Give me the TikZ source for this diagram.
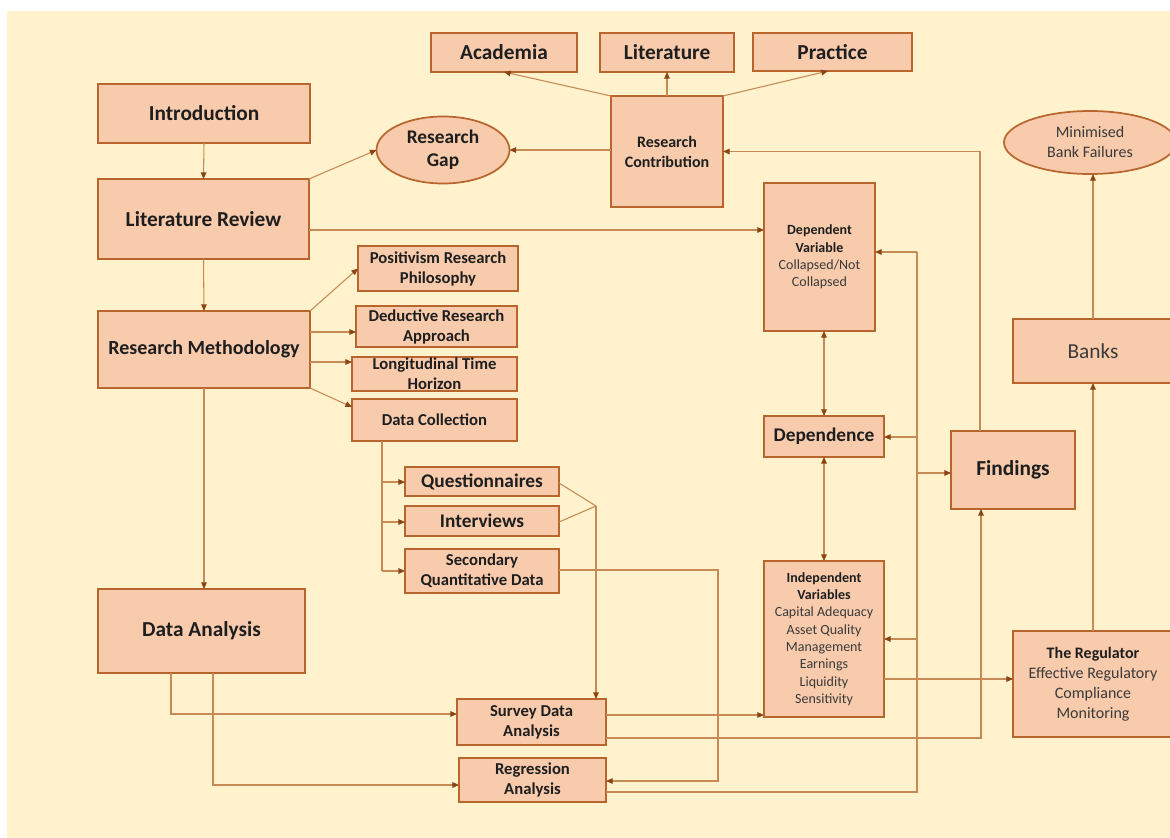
\documentclass[tikz,border=0pt]{standalone}
\usepackage{fontspec}
\setmainfont{Carlito}
\usetikzlibrary{arrows.meta,shapes.geometric,calc}
\definecolor{bgc}{HTML}{FFF2CC}
\definecolor{boxfill}{HTML}{F8CBAD}
\definecolor{boxline}{HTML}{B9652E}
\definecolor{wirec}{HTML}{C58A55}
\definecolor{tipc}{HTML}{8A4516}
\definecolor{ink}{HTML}{1E1E1E}
\definecolor{soft}{HTML}{3A3A3A}

\newcommand\fsz[2]{\fontsize{#1}{#2}\selectfont}
\newcommand\rg[1]{{\mdseries\color{soft}#1}}
\tikzset{
  box/.style={draw=boxline, fill=boxfill, line width=1.3pt, inner sep=0pt,
    outer sep=0pt, align=center, text=ink},
  oval/.style={box, ellipse},
  b16/.style={font=\bfseries\fsz{16}{19}},
  b15/.style={font=\bfseries\fsz{15}{18}},
  b145/.style={font=\bfseries\fsz{14.5}{17}},
  b125/.style={font=\bfseries\fsz{12.5}{15}},
  b12/.style={font=\bfseries\fsz{12}{15}},
  b105/.style={font=\bfseries\fsz{10.5}{13}},
  wire/.style={draw=wirec, line width=0.8pt},
  arr/.style={wire, -{Triangle[length=5pt,width=4.2pt,color=tipc]}},
  darr/.style={wire, {Triangle[length=5pt,width=4.2pt,color=tipc]}-{Triangle[length=5pt,width=4.2pt,color=tipc]}},
}
% [style]{name}{x1}{y1}{x2}{y2}{text}: a box given by its corners in pixels
\newcommand\drawbox[7][]{\node[box,#1,minimum width={(#5-#3)*0.75pt},
  minimum height={(#6-#4)*0.75pt}] (#2) at ({(#3+#5)/2},{(#4+#6)/2}) {#7};}

\begin{document}
\begin{tikzpicture}[x=0.75pt,y=-0.75pt]
\useasboundingbox (0,0) rectangle (1170,838);
\clip (0,0) rectangle (1170,838);
\fill[bgc] (7,11) rectangle (1172,840);

% top row
\drawbox[b16]{acad}{431}{33}{577}{72}{Academia}
\drawbox[b16]{lit}{600}{33}{734}{72}{Literature}
\drawbox[b16]{prac}{753}{33}{912}{71}{Practice}
\drawbox[b12]{contrib}{611}{96}{723}{207}{Research\\Contribution}
\node[oval, b145, minimum width=133*0.75pt, minimum height=67*0.75pt] (gap) at (443,150)
  {Research\\Gap};
\node[oval, font=\fsz{12}{15}, text=soft, minimum width=172*0.75pt, minimum height=63*0.75pt]
  (minim) at (1090,142.5) {Minimised\\Bank Failures};

% left column
\drawbox[b16]{intro}{98}{84}{310}{143}{Introduction}
\drawbox[b16]{litrev}{98}{179}{309}{259}{Literature Review}
\drawbox[b15]{meth}{98}{311}{310}{388}{Research Methodology}
\drawbox[b16]{danal}{98}{589}{305}{673}{Data Analysis}

% methodology choices
\drawbox[b125]{pos}{358}{246}{518}{291}{Positivism Research\\Philosophy}
\drawbox[b125]{ded}{356}{306}{517}{347}{Deductive Research\\Approach}
\drawbox[b125]{lon}{352}{357}{517}{391}{Longitudinal Time\\Horizon}
\drawbox[b125]{dcol}{352}{399}{517}{441}{Data Collection}
\drawbox[b145]{quest}{405}{467}{559}{496}{Questionnaires}
\drawbox[b145]{interv}{405}{506}{559}{536}{Interviews}
\drawbox[b125]{second}{405}{549}{559}{593}{Secondary\\Quantitative Data}
\drawbox[b125]{survey}{457}{699}{606}{745}{Survey Data\\Analysis}
\drawbox[b125]{regr}{459}{758}{606}{802}{Regression\\Analysis}

% variables and outcomes
\drawbox[b105]{depvar}{764}{183}{875}{331}{Dependent\\Variable\\\rg{Collapsed/Not}\\\rg{Collapsed}}
\drawbox[b145]{depend}{764}{416}{884}{457}{Dependence}
\drawbox[b105]{indep}{764}{561}{884}{717}{Independent\\Variables\\\rg{Capital Adequacy}\\\rg{Asset Quality}\\\rg{Management}\\\rg{Earnings}\\\rg{Liquidity}\\\rg{Sensitivity}}
\drawbox[b16]{findings}{951}{431}{1075}{509}{Findings}
\drawbox[font=\fsz{16}{19}, text=soft]{banks}{1013}{319}{1173}{383}{Banks}
\drawbox[b12]{regul}{1013}{631}{1173}{737}{The Regulator\\\rg{Effective Regulatory}\\\rg{Compliance}\\\rg{Monitoring}}

% main spine
\draw[arr] (intro.south) -- (litrev.north);
\draw[arr] (litrev.south) -- (meth.north);
\draw[arr] (meth.south) -- (meth.south |- danal.north);
\draw[arr] (litrev.north east) -- (gap.west);
\draw[arr] (litrev.east |- 0,230) -- (depvar.west |- 0,230);

% contribution
\draw[arr] (contrib.west |- gap.east) -- (gap.east);
\draw[arr] (contrib.north) -- (lit.south);
\draw[arr] (contrib.north west) -- (acad.south);
\draw[arr] (contrib.north east) -- (prac.south -| 828,0);
\draw[arr] (findings.north -| 980,0) |- (contrib.east);

% dependence links
\draw[darr] (depend.north |- depvar.south) -- (depend.north);
\draw[darr] (depend.south) -- (indep.north);

% regression results trunk
\coordinate (t1) at (917,252);
\coordinate (t2) at (917,437);
\coordinate (t3) at (917,473);
\coordinate (t4) at (917,639);
\coordinate (t5) at (917,792);
\draw[wire] (regr.east |- t5) -- (t5) -- (t1);
\draw[arr] (t1) -- (t1 -| depvar.east);
\draw[arr] (t2) -- (t2 -| depend.east);
\draw[arr] (t3) -- (t3 -| findings.west);
\draw[arr] (t4) -- (t4 -| indep.east);

% survey results
\draw[arr] (survey.east |- 0,738) -| (findings.south -| 981,0);
\draw[arr] (survey.east |- 0,715) -- (indep.west |- 0,715);
\draw[arr] (indep.east |- 0,679) -- (regul.west |- 0,679);
\draw[arr] (regul.north) -- (banks.south);
\draw[arr] (banks.north) -- (banks.north |- minim.south);

% methodology branches
\draw[arr] (meth.north east) -- (pos.west);
\draw[arr] (meth.east |- 0,332) -- (ded.west |- 0,332);
\draw[arr] (meth.east |- 0,362) -- (lon.west |- 0,362);
\draw[arr] (meth.south east) -- (dcol.west |- 0,407);

% data collection branches
\coordinate (c1) at (382,482);
\coordinate (c2) at (382,522);
\coordinate (c3) at (382,571);
\draw[wire] (dcol.south -| c1) -- (c3);
\draw[arr] (c1) -- (c1 -| quest.west);
\draw[arr] (c2) -- (c2 -| interv.west);
\draw[arr] (c3) -- (c3 -| second.west);

\coordinate (m) at (596,506);
\draw[wire] (quest.east |- 0,483) -- (m);
\draw[wire] (interv.east |- 0,522) -- (m);
\draw[arr] (m) -- (m |- survey.north);
\draw[arr] (second.east |- 0,570) -| (718,781) -- (regr.east |- 0,781);

% analysis branches
\draw[arr] (danal.south -| 171,0) |- (survey.west |- 0,714);
\draw[arr] (danal.south -| 213,0) |- (regr.west |- 0,785);
\end{tikzpicture}
\end{document}
